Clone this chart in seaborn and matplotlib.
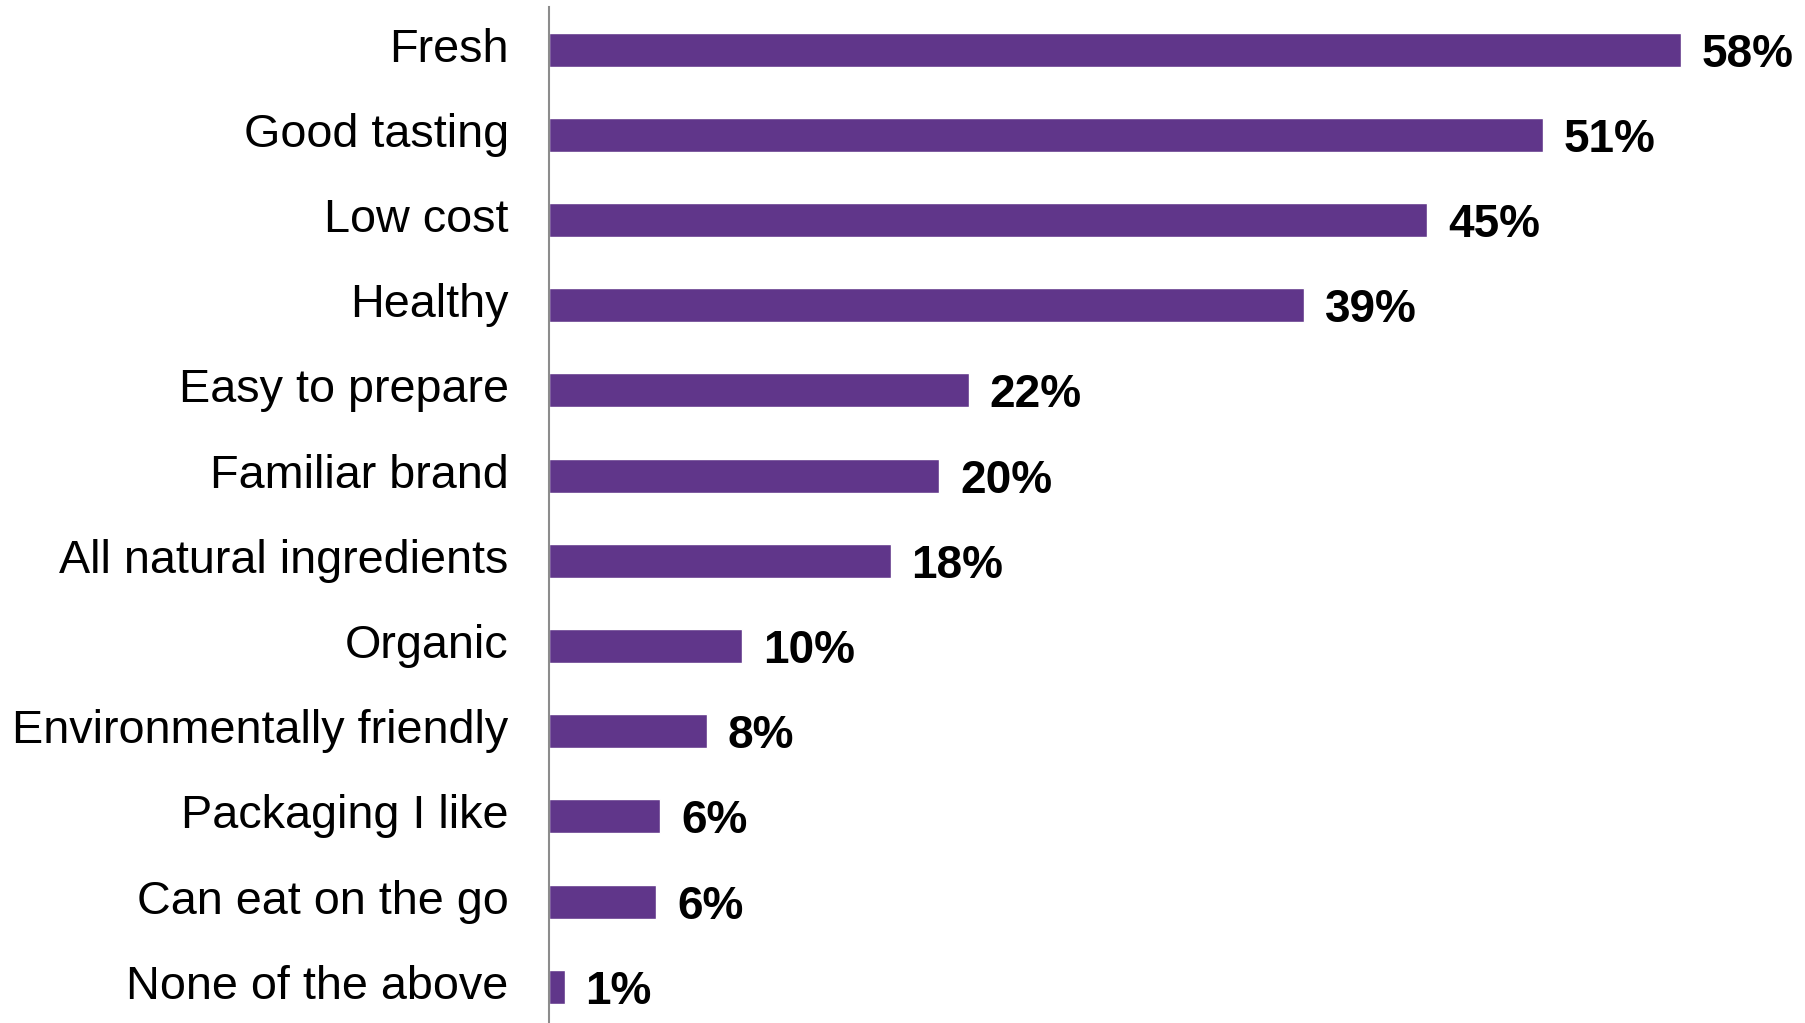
import matplotlib
matplotlib.use("Agg")
import matplotlib.pyplot as plt
import seaborn as sns
import pandas as pd

categories = ["Fresh", "Good tasting", "Low cost", "Healthy", "Easy to prepare",
              "Familiar brand", "All natural ingredients", "Organic",
              "Environmentally friendly", "Packaging I like", "Can eat on the go",
              "None of the above"]
values = [58.0, 50.9, 45.0, 38.7, 21.5, 20.0, 17.5, 9.9, 8.1, 5.7, 5.5, 0.8]
value_labels = ["58%", "51%", "45%", "39%", "22%", "20%", "18%", "10%", "8%", "6%", "6%", "1%"]

df = pd.DataFrame({"category": categories, "value": values})

sns.set_theme(style="white")
plt.rcParams["font.family"] = ["Liberation Sans", "DejaVu Sans"]

fig = plt.figure(figsize=(18.06, 10.23), dpi=100)
ax = fig.add_axes([0.304, 0.0, 0.696, 0.9932])

sns.barplot(data=df, x="value", y="category", orient="h", color="#60368A",
            saturation=1, width=0.4, ax=ax)

ax.set_xlim(0, 64.4)
ax.set_ylim(11.425, -0.5)
ax.set_xlabel("")
ax.set_ylabel("")
ax.set_xticks([])
for s in ["top", "right", "bottom"]:
    ax.spines[s].set_visible(False)
ax.spines["left"].set_color("#8C8C8C")
ax.spines["left"].set_linewidth(1.5)
ax.tick_params(axis="y", length=0, pad=29, labelsize=33.7, labelcolor="black")
for t in ax.get_yticklabels():
    t.set_verticalalignment("center")

texts = ax.bar_label(ax.containers[0], labels=value_labels, padding=15,
                     fontsize=33, fontweight="bold", color="black")
for t in texts:
    t.set_verticalalignment("center_baseline")

fig.savefig("out.png", dpi=100, facecolor="white")
